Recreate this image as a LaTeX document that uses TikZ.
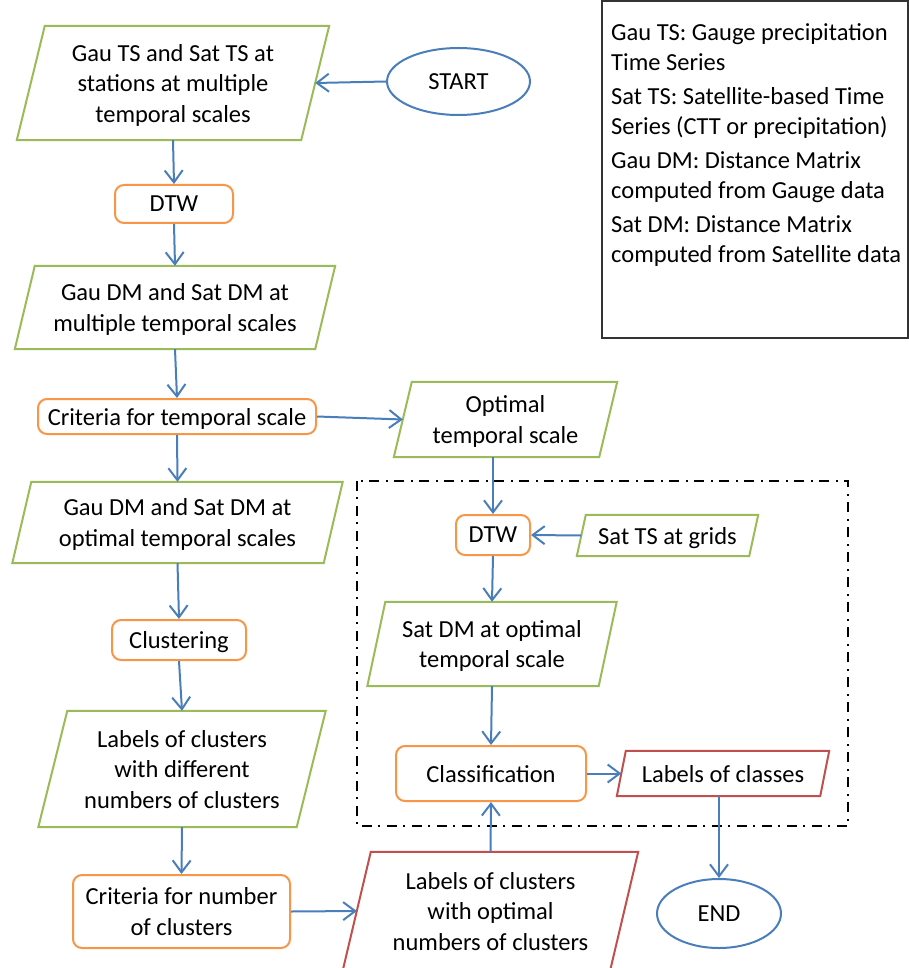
\documentclass[tikz,border=0pt]{standalone}
\usepackage{fontspec}
\setmainfont{Carlito}
\usetikzlibrary{arrows.meta,shapes.geometric}
\definecolor{cgreen}{HTML}{9BBB59}
\definecolor{corange}{HTML}{F79646}
\definecolor{cblue}{HTML}{4A7EBB}
\definecolor{cred}{HTML}{C0504D}
\newcommand\drawpara[3]{\draw[#3] ([xshift=#2pt]#1.north west) -- ([xshift=#2pt]#1.north east) -- ([xshift=-#2pt]#1.south east) -- ([xshift=-#2pt]#1.south west) -- cycle;}
\tikzset{
  every node/.style={font=\fontsize{24.5}{30.5}\selectfont, inner sep=0pt, align=center},
  iobox/.style={draw=none, minimum width=#1, text depth=0pt},
  procbox/.style={draw=corange, line width=2pt, rounded corners=9pt, text depth=0pt},
  termbox/.style={draw=cblue, line width=2pt, ellipse},
  paragreen/.style={draw=cgreen, line width=2pt, line join=miter},
  parared/.style={draw=cred, line width=2pt, line join=miter},
  flow/.style={draw=cblue, line width=2pt, -{Straight Barb[length=12pt,width=18pt,line width=2pt]}},
  groupbox/.style={draw=black, line width=2pt, dash pattern=on 10pt off 6pt on 2pt off 7pt},
  legendbox/.style={draw=black!80, line width=1.3pt}
}
\begin{document}
\begin{tikzpicture}[x=1pt,y=-1pt]
\useasboundingbox (0,0) rectangle (909,968);

% legend
\draw[legendbox] (602,1) rectangle (908,338);
\node[anchor=west, align=left] (legend) at (611,145) {Gau TS: Gauge precipitation\\Time Series\\[3pt]Sat TS: Satellite-based Time\\Series (CTT or precipitation)\\[3pt]Gau DM: Distance Matrix\\computed from Gauge data\\[3pt]Sat DM: Distance Matrix\\computed from Satellite data};

% dash-dot group
\draw[groupbox] (357,481) rectangle (848,826);

% parallelogram text nodes
\node[iobox=284, minimum height=114, text depth=-6pt] (p1) at (173,83) {Gau TS and Sat TS at\\stations at multiple\\temporal scales};
\node[iobox=300, minimum height=83] (p2) at (175,307.5) {Gau DM and Sat DM at\\multiple temporal scales};
\node[iobox=205, minimum height=75] (p3) at (505.5,419.5) {Optimal\\temporal scale};
\node[iobox=311, minimum height=81] (p4) at (177.5,522.5) {Gau DM and Sat DM at\\optimal temporal scales};
\node[iobox=172, minimum height=41] (p5) at (667.5,535.5) {Sat TS at grids};
\node[iobox=231, minimum height=84] (p6) at (492,644) {Sat DM at optimal\\temporal scale};
\node[iobox=258, minimum height=116] (p7) at (182,769) {Labels of clusters\\with different\\numbers of clusters};
\node[iobox=267, minimum height=118] (p8) at (490.5,911) {Labels of clusters\\with optimal\\numbers of clusters};
\node[iobox=203, minimum height=45] (p9) at (723,773.5) {Labels of classes};

\drawpara{p1}{14}{paragreen}
\drawpara{p2}{10}{paragreen}
\drawpara{p3}{9}{paragreen}
\drawpara{p4}{9.5}{paragreen}
\drawpara{p5}{4.5}{paragreen}
\drawpara{p6}{9}{paragreen}
\drawpara{p7}{14.5}{paragreen}
\drawpara{p8}{14}{parared}
\drawpara{p9}{4.5}{parared}

% process boxes
\node[procbox, minimum width=118, minimum height=38] (dtw1) at (174,204) {DTW};
\node[procbox, minimum width=278, minimum height=35] (ct) at (177,416.5) {Criteria for temporal scale};
\node[procbox, minimum width=74, minimum height=40] (dtw2) at (493,535) {DTW};
\node[procbox, minimum width=134, minimum height=40] (clu) at (179,640) {Clustering};
\node[procbox, minimum width=190, minimum height=55] (cls) at (491,773.5) {Classification};
\node[procbox, minimum width=217, minimum height=73] (cn) at (181.5,911.5) {Criteria for number\\of clusters};

% terminals
\node[termbox, minimum width=143, minimum height=67] (start) at (458.5,81.5) {START};
\node[termbox, minimum width=124, minimum height=69] (end) at (719,913.5) {END};

% connectors
\draw[flow] (start.west) -- (p1.east);
\draw[flow] (p1.south) -- (dtw1.north);
\draw[flow] (dtw1.south) -- (p2.north);
\draw[flow] (p2.south) -- (ct.north);
\draw[flow] (ct.east) -- (p3.west);
\draw[flow] (ct.south) -- (p4.north);
\draw[flow] (p3.south -| dtw2.north) -- (dtw2.north);
\draw[flow] (p5.west) -- (dtw2.east);
\draw[flow] (dtw2.south) -- (p6.north);
\draw[flow] (p4.south) -- (clu.north);
\draw[flow] (clu.south) -- (p7.north);
\draw[flow] (p7.south) -- (cn.north);
\draw[flow] (cn.east) -- (p8.west);
\draw[flow] (p6.south) -- (cls.north);
\draw[flow] (p8.north) -- (cls.south);
\draw[flow] (cls.east) -- (p9.west);
\draw[flow] (p9.south -| end.north) -- (end.north);
\end{tikzpicture}
\end{document}
